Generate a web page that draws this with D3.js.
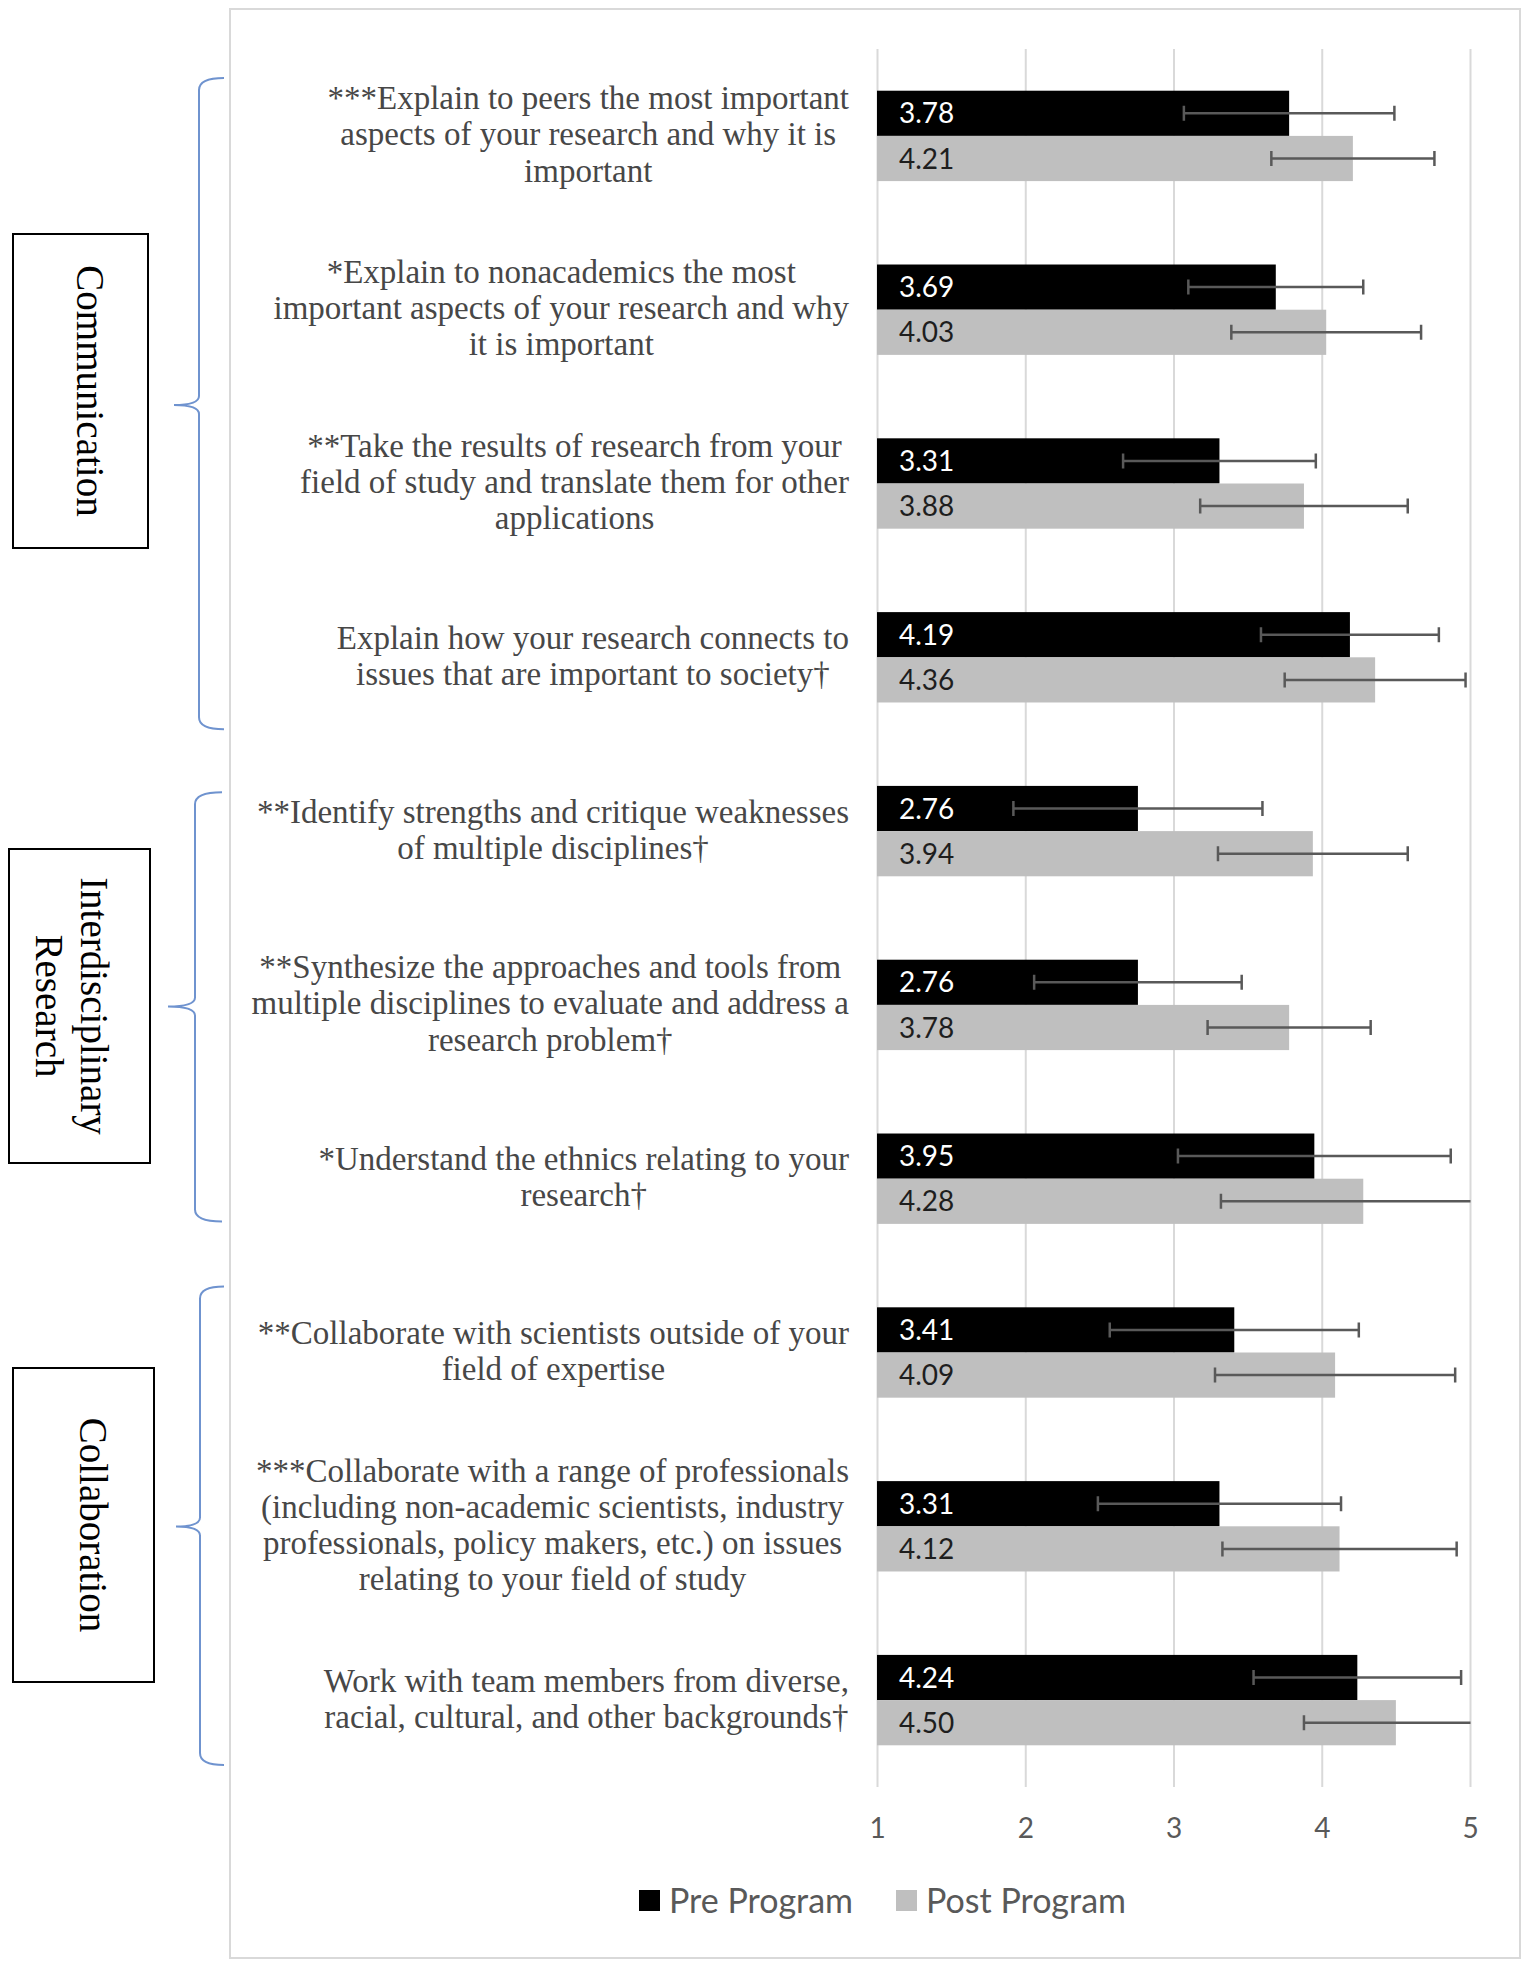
<!DOCTYPE html>
<html>
<head>
<meta charset="utf-8">
<script src="https://cdn.jsdelivr.net/npm/d3@7"></script>
<style>
  html, body { margin: 0; padding: 0; background: #fff; }
  svg { display: block; }
</style>
</head>
<body>
<svg id="chart" width="1535" height="1973"></svg>
<script>
// ---------------- DATA ----------------
const categoryLines = [
  ["***Explain to peers the most important", "aspects of your research and why it is", "important"],
  ["*Explain to nonacademics the most", "important aspects of your research and why", "it is important"],
  ["**Take the results of research from your", "field of study and translate them for other", "applications"],
  ["Explain how your research connects to", "issues that are important to society\u2020"],
  ["**Identify strengths and critique weaknesses", "of multiple disciplines\u2020"],
  ["**Synthesize the approaches and tools from", "multiple disciplines to evaluate and address a", "research problem\u2020"],
  ["*Understand the ethnics relating to your", "research\u2020"],
  ["**Collaborate with scientists outside of your", "field of expertise"],
  ["***Collaborate with a range of professionals", "(including non-academic scientists, industry", "professionals, policy makers, etc.) on issues", "relating to your field of study"],
  ["Work with team members from diverse,", "racial, cultural, and other backgrounds\u2020"]
];
const preValues  = [3.78, 3.69, 3.31, 4.19, 2.76, 2.76, 3.95, 3.41, 3.31, 4.24];
const postValues = [4.21, 4.03, 3.88, 4.36, 3.94, 3.78, 4.28, 4.09, 4.12, 4.50];
const preErrors  = [0.71, 0.59, 0.65, 0.60, 0.84, 0.70, 0.92, 0.84, 0.82, 0.70];
const postErrors = [0.55, 0.64, 0.70, 0.61, 0.64, 0.55, 0.96, 0.81, 0.79, 0.62];
const seriesNames = ["Pre Program", "Post Program"];
const xTicks = [1, 2, 3, 4, 5];
const groupNames = [["Communication"], ["Interdisciplinary", "Research"], ["Collaboration"]];
const groupFirst = [0, 4, 7];
const groupLast  = [3, 6, 9];

// ---------------- LAYOUT ----------------
const W = 1535, H = 1973;
const plot = { left: 877, right: 1470, top: 49, bottom: 1787 };
const colors = { pre: "#000000", post: "#bfbfbf", grid: "#d9d9d9", err: "#595959",
                 label: "#474747", tick: "#595959", brace: "#6f93cf", frame: "#d9d9d9" };
const braceLayout = [
  { topInset: 29, botInset: 15, endX: 224, spineX: 199, tipX: 174, tipY: 405 },
  { topInset: 48, botInset: 44, endX: 222, spineX: 195, tipX: 168, tipY: 1006.5 },
  { topInset: 21, botInset: 22, endX: 224, spineX: 200, tipX: 176, tipY: 1526.5 }
];
const boxLayout = [
  { x: 13, y: 234, w: 135, h: 314, baseX: 77 },
  { x: 9, y: 849, w: 141, h: 314, baseX: 81 },
  { x: 13, y: 1368, w: 141, h: 314, baseX: 80 }
];

const svg = d3.select("#chart");
svg.append("rect").attr("width", W).attr("height", H).attr("fill", "#fff");

// outer chart frame
svg.append("rect")
  .attr("x", 230).attr("y", 9).attr("width", 1290).attr("height", 1949)
  .attr("fill", "none").attr("stroke", colors.frame).attr("stroke-width", 2);

// scales
const x = d3.scaleLinear().domain([1, 5]).range([plot.left, plot.right]);
const y = d3.scaleBand().domain(d3.range(categoryLines.length))
  .range([plot.top, plot.bottom]).paddingInner(0.48).paddingOuter(0.24);
const bw = y.bandwidth();
const half = bw / 2;

// grid lines
const grid = svg.append("g").attr("transform", `translate(0,${plot.bottom})`)
  .call(d3.axisBottom(x).tickValues(xTicks).tickSize(-(plot.bottom - plot.top)).tickFormat(""));
grid.select(".domain").remove();
grid.selectAll("line").attr("stroke", colors.grid).attr("stroke-width", 2);

// tick labels
const ax = svg.append("g").attr("transform", `translate(0,${plot.bottom})`)
  .call(d3.axisBottom(x).tickValues(xTicks).tickSize(0).tickPadding(31).tickFormat(d3.format("d")));
ax.select(".domain").remove();
ax.selectAll("text").attr("font-family", "Lato, 'Open Sans', sans-serif")
  .attr("font-size", 28).attr("fill", colors.tick);

// bars
const data = categoryLines.map((c, i) => ({ i, pre: preValues[i], post: postValues[i],
  preE: preErrors[i], postE: postErrors[i] }));

const bars = svg.append("g");
bars.selectAll("rect.pre").data(data).join("rect").attr("class", "pre")
  .attr("x", x(1)).attr("y", d => y(d.i))
  .attr("width", d => x(d.pre) - x(1)).attr("height", half).attr("fill", colors.pre);
bars.selectAll("rect.post").data(data).join("rect").attr("class", "post")
  .attr("x", x(1)).attr("y", d => y(d.i) + half)
  .attr("width", d => x(d.post) - x(1)).attr("height", half).attr("fill", colors.post);

// data labels
const labFont = "Lato, 'Open Sans', sans-serif";
bars.selectAll("text.pre").data(data).join("text").attr("class", "pre")
  .attr("x", x(1) + 22).attr("y", d => y(d.i) + half / 2).attr("dy", "0.36em")
  .attr("font-family", labFont).attr("font-size", 28).attr("fill", "#ffffff")
  .text(d => d.pre.toFixed(2));
bars.selectAll("text.post").data(data).join("text").attr("class", "post")
  .attr("x", x(1) + 22).attr("y", d => y(d.i) + half * 1.5).attr("dy", "0.36em")
  .attr("font-family", labFont).attr("font-size", 28).attr("fill", "#1e1e1e")
  .text(d => d.post.toFixed(2));

// error bars (clipped to plot area)
svg.append("defs").append("clipPath").attr("id", "plotClip")
  .append("rect").attr("x", plot.left).attr("y", 0)
  .attr("width", plot.right - plot.left + 0.5).attr("height", H);
const eg = svg.append("g").attr("clip-path", "url(#plotClip)")
  .attr("stroke", colors.err).attr("stroke-width", 2.5).attr("fill", "none");
const errs = [];
data.forEach(d => {
  errs.push({ v: d.pre, e: d.preE, cy: y(d.i) + half / 2 });
  errs.push({ v: d.post, e: d.postE, cy: y(d.i) + half * 1.5 });
});
const capH = 7.5;
eg.selectAll("path").data(errs).join("path")
  .attr("d", d => {
    const x0 = x(d.v - d.e), x1 = x(d.v + d.e);
    return `M${x0},${d.cy}H${x1}M${x0},${d.cy - capH}V${d.cy + capH}M${x1},${d.cy - capH}V${d.cy + capH}`;
  });

// category labels (wrapped lines, centered block, right-aligned)
const lineH = 36.2;
const labelRight = 849;
const lg = svg.append("g").attr("font-family", "'Liberation Serif', 'Times New Roman', serif")
  .attr("font-size", 33).attr("fill", colors.label);
categoryLines.forEach((lines, i) => {
  const cy = y(i) + bw / 2 - 2;
  const t = lg.append("text").attr("text-anchor", "middle");
  const tsp = lines.map((ln, k) => t.append("tspan")
    .attr("y", cy + (k - (lines.length - 1) / 2) * lineH).attr("dy", "0.35em").text(ln));
  const maxW = d3.max(tsp, s => s.node().getComputedTextLength());
  tsp.forEach(s => s.attr("x", labelRight - maxW / 2));
});

// braces
const bg = svg.append("g").attr("fill", "none").attr("stroke", colors.brace).attr("stroke-width", 2);
braceLayout.forEach((b, g) => {
  const top = y(groupFirst[g]) - y.step() * 0.24 + b.topInset;
  const bot = y(groupLast[g]) + bw + y.step() * 0.24 - b.botInset;
  const m = b.tipY;
  const p = `M${b.endX},${top}Q${b.spineX},${top} ${b.spineX},${top + 12}` +
    `L${b.spineX},${m - 9}Q${b.spineX},${m} ${b.tipX},${m}` +
    `Q${b.spineX},${m} ${b.spineX},${m + 9}L${b.spineX},${bot - 12}` +
    `Q${b.spineX},${bot} ${b.endX},${bot}`;
  bg.append("path").attr("d", p);
});

// group boxes with rotated titles
boxLayout.forEach((bx, g) => {
  svg.append("rect").attr("x", bx.x).attr("y", bx.y).attr("width", bx.w).attr("height", bx.h)
    .attr("fill", "#fff").attr("stroke", "#000").attr("stroke-width", 2);
  const cy = bx.y + bx.h / 2;
  const names = groupNames[g];
  names.forEach((nm, k) => {
    const bx0 = bx.baseX - k * 45;
    svg.append("text")
      .attr("transform", `translate(${bx0},${cy}) rotate(90)`)
      .attr("text-anchor", "middle")
      .attr("font-family", "'Liberation Serif', 'Times New Roman', serif")
      .attr("font-size", 39).attr("fill", "#000")
      .text(nm);
  });
});

// legend
const legend = svg.append("g").attr("font-family", labFont).attr("font-size", 34).attr("fill", colors.tick);
const legItems = [
  { name: seriesNames[0], color: colors.pre, sx: 639, tx: 669 },
  { name: seriesNames[1], color: colors.post, sx: 896, tx: 926 }
];
legItems.forEach(it => {
  legend.append("rect").attr("x", it.sx).attr("y", 1890).attr("width", 21).attr("height", 21).attr("fill", it.color);
  legend.append("text").attr("x", it.tx).attr("y", 1900.5).attr("dy", "0.36em").text(it.name);
});
</script>
</body>
</html>
